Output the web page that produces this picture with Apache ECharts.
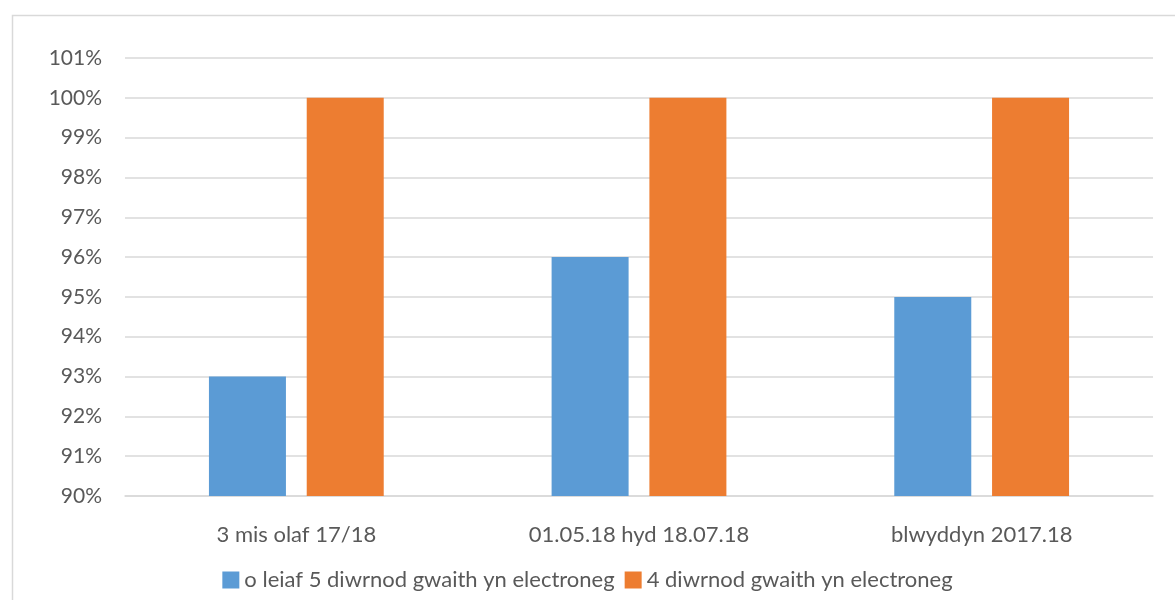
<!DOCTYPE html>
<html>
<head>
<meta charset="utf-8">
<script src="https://cdn.jsdelivr.net/npm/echarts@6/dist/echarts.min.js"></script>
<style>
html,body{margin:0;padding:0;background:#fff;}
#chart{width:1175px;height:600px;}
</style>
</head>
<body>
<div id="chart"></div>
<script>
var categories = ['3 mis olaf 17/18', '01.05.18 hyd 18.07.18', 'blwyddyn 2017.18'];
var seriesNames = ['o leiaf 5 diwrnod gwaith yn electroneg', '4 diwrnod gwaith yn electroneg'];
var seriesA = [0.93, 0.96, 0.95];
var seriesB = [1.00, 1.00, 1.00];
var colors = ['#5B9BD5', '#ED7D31'];

var font = 'Lato, "Open Sans", sans-serif';
var chart = echarts.init(document.getElementById('chart'));
chart.setOption({
  animation: false,
  graphic: [{
    type: 'rect',
    left: 10, top: 13,
    shape: {width: 1200, height: 700},
    style: {fill: 'none', stroke: '#D9D9D9', lineWidth: 1.5},
    silent: true
  }],
  grid: {left: 125, right: 22, top: 58, bottom: 104, containLabel: false},
  legend: {
    bottom: 4,
    left: 'center',
    itemWidth: 17,
    itemHeight: 17,
    itemGap: 10,
    icon: 'rect',
    textStyle: {color: '#595959', fontSize: 22, fontFamily: font},
    data: seriesNames
  },
  xAxis: {
    type: 'category',
    data: categories,
    axisLine: {show: true, lineStyle: {color: '#D9D9D9', width: 1.5}},
    axisTick: {show: false},
    axisLabel: {color: '#595959', fontSize: 22, fontFamily: font, margin: 28}
  },
  yAxis: {
    type: 'value',
    min: 0.90, max: 1.01, interval: 0.01,
    axisLine: {show: false},
    axisTick: {show: false},
    splitLine: {lineStyle: {color: '#D9D9D9', width: 1.5}},
    axisLabel: {
      color: '#595959', fontSize: 21, fontFamily: font, margin: 23,
      formatter: function (v) { return Math.round(v * 100) + '%'; }
    }
  },
  series: [
    {name: seriesNames[0], type: 'bar', data: seriesA, barWidth: 77, barGap: '27%', itemStyle: {color: colors[0]}},
    {name: seriesNames[1], type: 'bar', data: seriesB, barWidth: 77, barGap: '27%', itemStyle: {color: colors[1]}}
  ]
});
</script>
</body>
</html>
